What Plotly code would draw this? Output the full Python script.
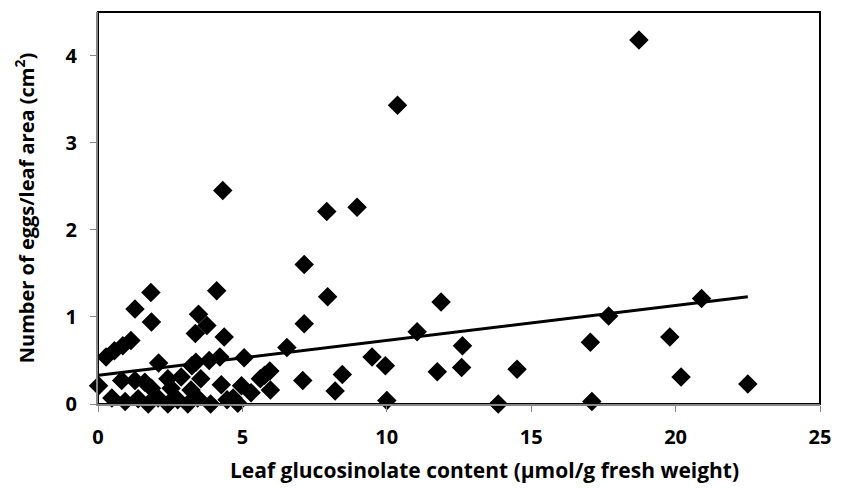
import plotly.graph_objects as go

# Leaf glucosinolate content (µmol/g fresh weight)
glucosinolate = [
    18.73, 10.37, 4.32, 7.92, 8.97, 7.14, 7.95, 7.14, 6.54, 5.95,
    5.97, 7.09, 8.46, 8.21, 9.49, 9.95, 11.05, 11.88, 12.62, 11.75,
    12.59, 14.51, 10.00, 13.86, 20.90, 17.68, 17.05, 19.80, 20.19, 22.50,
    17.10, 1.83, 1.28, 1.85, 4.11, 3.48, 3.77, 3.37, 4.37, 1.14,
    0.86, 0.57, 0.28, 2.10, 3.39, 3.85, 4.22, 5.06, 3.25, 5.77,
    0.02, 0.82, 1.28, 1.62, 2.42, 2.88, 3.56, 4.27, 4.97, 5.62,
    0.48, 0.94, 1.39, 1.74, 2.08, 2.42, 2.76, 3.11, 3.45, 3.90,
    4.47, 4.84, 2.53, 1.85, 3.22, 5.30, 4.68,
]
# Number of eggs / leaf area (cm²)
eggs = [
    4.18, 3.43, 2.45, 2.21, 2.26, 1.60, 1.23, 0.92, 0.65, 0.38,
    0.16, 0.27, 0.34, 0.15, 0.54, 0.44, 0.83, 1.17, 0.67, 0.37,
    0.42, 0.40, 0.04, 0.00, 1.21, 1.01, 0.71, 0.77, 0.31, 0.23,
    0.03, 1.28, 1.09, 0.94, 1.30, 1.03, 0.90, 0.81, 0.77, 0.73,
    0.67, 0.61, 0.54, 0.47, 0.48, 0.50, 0.54, 0.53, 0.44, 0.33,
    0.21, 0.27, 0.27, 0.25, 0.29, 0.31, 0.29, 0.22, 0.21, 0.29,
    0.07, 0.03, 0.06, 0.00, 0.07, 0.00, 0.05, 0.00, 0.07, 0.00,
    0.05, 0.01, 0.18, 0.18, 0.16, 0.13, 0.07,
]

# Linear trend line (intercept, slope)
trend_intercept = 0.33
trend_slope = 0.040

x_ticks = [0, 5, 10, 15, 20, 25]
y_ticks = [0, 1, 2, 3, 4]

x_title = "Leaf glucosinolate content (µmol/g fresh weight)"
y_title = "Number of eggs/leaf area (cm<sup>2</sup>)"

x_min, x_max = min(glucosinolate), max(glucosinolate)
trend_x = [x_min, x_max]
trend_y = [trend_intercept + trend_slope * v for v in trend_x]

font_family = "Open Sans"
axis_grey = "#868686"

fig = go.Figure()
fig.add_trace(go.Scatter(
    x=glucosinolate, y=eggs, mode="markers",
    marker=dict(symbol="diamond", size=15, color="black", line=dict(width=0)),
    cliponaxis=False, showlegend=False,
))
fig.add_trace(go.Scatter(
    x=trend_x, y=trend_y, mode="lines",
    line=dict(color="black", width=3), showlegend=False,
))

# plot-area border (top/right visible in black)
fig.add_shape(type="rect", xref="x domain", yref="y domain",
              x0=0, x1=1, y0=0, y1=1,
              line=dict(color="black", width=2), layer="below")

# x-axis title (placed slightly right of the plot centre, as in the original)
fig.add_annotation(
    text=x_title, xref="paper", yref="paper",
    x=0.536, y=-0.168, xanchor="center", yanchor="middle",
    showarrow=False,
    font=dict(family=font_family, size=21, weight="bold", color="black"),
)

fig.update_layout(
    width=843, height=488,
    margin=dict(l=98, r=12, t=12, b=84),
    paper_bgcolor="white", plot_bgcolor="white",
    font=dict(family=font_family, color="black", size=20, weight="bold"),
)
fig.update_xaxes(
    range=[0, 25], tickvals=x_ticks, ticktext=[str(v) for v in x_ticks],
    showgrid=False, zeroline=False,
    showline=True, linecolor=axis_grey, linewidth=2,
    ticks="outside", ticklen=6, tickcolor=axis_grey, tickwidth=1,
    ticklabelstandoff=8, ticklabeloverflow="allow",
    tickfont=dict(family=font_family, size=20, weight="bold"),
)
fig.update_yaxes(
    range=[0, 4.5], tickvals=y_ticks, ticktext=[str(v) for v in y_ticks],
    showgrid=False, zeroline=False,
    showline=True, linecolor=axis_grey, linewidth=2,
    ticks="outside", ticklen=6, tickcolor=axis_grey, tickwidth=1,
    ticklabelstandoff=9,
    tickfont=dict(family=font_family, size=20, weight="bold"),
    title=dict(text=y_title,
               font=dict(family=font_family, size=20, weight="bold"),
               standoff=26),
)

fig.write_html("out.html")
